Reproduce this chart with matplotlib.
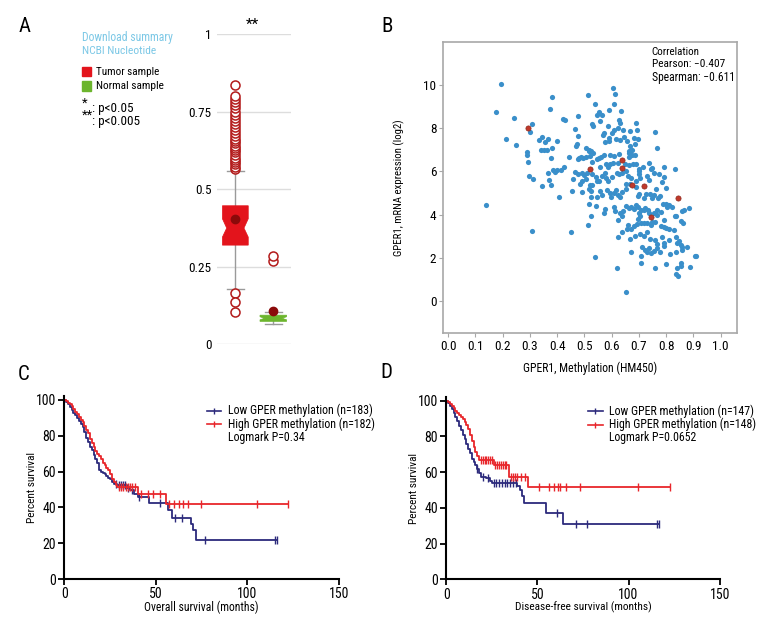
import numpy as np
import matplotlib
matplotlib.use("Agg")
import matplotlib.pyplot as plt
from matplotlib import font_manager
from matplotlib.patches import Rectangle, Polygon
from matplotlib.lines import Line2D

names = set(f.name for f in font_manager.fontManager.ttflist)
fams = [n for n in ['DejaVu Sans Condensed', 'Liberation Sans Narrow', 'Roboto Condensed',
                    'Open Sans Condensed'] if n in names]
plt.rcParams['font.family'] = fams + ['DejaVu Sans']
plt.rcParams['font.stretch'] = 'condensed'
plt.rcParams['font.size'] = 8

# ---------------- data ----------------
groups = ["Tumor sample", "Normal sample"]
box_q1 = [0.319, 0.073]
box_med = [0.374, 0.083]
box_q3 = [0.446, 0.093]
box_cilo = [0.345, 0.078]
box_cihi = [0.404, 0.088]
box_whislo = [0.176, 0.066]
box_whishi = [0.559, 0.102]
box_mean = [0.403, 0.107]
tumor_fliers = [0.565, 0.572, 0.58, 0.588, 0.595, 0.60, 0.61, 0.62, 0.625, 0.632,
                0.64, 0.65, 0.655, 0.662, 0.67, 0.68, 0.69, 0.70, 0.71, 0.72, 0.73,
                0.74, 0.75, 0.76, 0.77, 0.78, 0.79, 0.80, 0.835, 0.163, 0.136, 0.104]
normal_fliers = [0.268, 0.285]

meth_tumor = [0.137, 0.175, 0.193, 0.213, 0.242, 0.249, 0.605, 0.654, 0.838, 0.843, 0.908,
              0.381, 0.513, 0.611, 0.540, 0.610, 0.373, 0.552, 0.546, 0.565, 0.590, 0.636,
              0.475, 0.422, 0.427, 0.556, 0.628, 0.632, 0.689, 0.309, 0.302, 0.529, 0.533,
              0.585, 0.609, 0.622, 0.643, 0.669, 0.693, 0.758, 0.465, 0.476, 0.343, 0.334,
              0.367, 0.354, 0.401, 0.573, 0.570, 0.603, 0.592, 0.574, 0.589, 0.617, 0.632,
              0.646, 0.655, 0.681, 0.696, 0.685, 0.669, 0.473, 0.469, 0.507, 0.516, 0.525,
              0.518, 0.530, 0.663, 0.675, 0.664, 0.765, 0.340, 0.352, 0.362, 0.381, 0.291,
              0.291, 0.378, 0.444, 0.475, 0.481, 0.489, 0.495, 0.507, 0.522, 0.546, 0.554,
              0.560, 0.572, 0.594, 0.608, 0.627, 0.663, 0.675, 0.684, 0.292, 0.426, 0.414,
              0.399, 0.383, 0.393, 0.368, 0.527, 0.558, 0.581, 0.587, 0.595, 0.606, 0.622,
              0.649, 0.665, 0.679, 0.691, 0.702, 0.716, 0.738, 0.745, 0.750, 0.793, 0.833,
              0.297, 0.313, 0.346, 0.379, 0.369, 0.408, 0.453, 0.458, 0.464, 0.477, 0.491,
              0.500, 0.509, 0.529, 0.543, 0.490, 0.485, 0.505, 0.519, 0.529, 0.517, 0.545,
              0.554, 0.563, 0.574, 0.579, 0.588, 0.601, 0.619, 0.627, 0.637, 0.652, 0.660,
              0.670, 0.689, 0.700, 0.702, 0.703, 0.728, 0.736, 0.757, 0.774, 0.785, 0.799,
              0.794, 0.493, 0.524, 0.524, 0.546, 0.558, 0.565, 0.583, 0.593, 0.597, 0.609,
              0.616, 0.624, 0.632, 0.639, 0.653, 0.654, 0.669, 0.691, 0.696, 0.701, 0.718,
              0.725, 0.740, 0.747, 0.755, 0.763, 0.770, 0.778, 0.789, 0.812, 0.518, 0.543,
              0.574, 0.608, 0.612, 0.632, 0.638, 0.641, 0.652, 0.664, 0.670, 0.681, 0.691,
              0.697, 0.700, 0.708, 0.717, 0.724, 0.733, 0.739, 0.754, 0.766, 0.767, 0.781,
              0.798, 0.804, 0.822, 0.832, 0.838, 0.859, 0.866, 0.885, 0.855, 0.862, 0.523,
              0.514, 0.572, 0.622, 0.659, 0.658, 0.670, 0.681, 0.692, 0.697, 0.703, 0.708,
              0.720, 0.730, 0.746, 0.749, 0.761, 0.782, 0.792, 0.801, 0.792, 0.812, 0.828,
              0.836, 0.848, 0.854, 0.307, 0.452, 0.625, 0.639, 0.669, 0.685, 0.703, 0.719,
              0.728, 0.740, 0.761, 0.767, 0.785, 0.793, 0.810, 0.839, 0.857, 0.540, 0.670,
              0.708, 0.713, 0.723, 0.731, 0.738, 0.743, 0.755, 0.767, 0.779, 0.792, 0.815,
              0.835, 0.859, 0.877, 0.907, 0.620, 0.706, 0.758, 0.800, 0.839, 0.853, 0.853,
              0.887]
expr_tumor = [4.45, 8.74, 10.06, 7.48, 8.46, 7.20, 9.85, 0.40, 1.23, 1.15, 2.08,
              9.45, 9.54, 9.60, 9.12, 9.12, 8.88, 8.74, 8.63, 8.60, 8.85, 8.78,
              8.54, 8.40, 8.37, 8.34, 8.38, 8.23, 8.26, 8.20, 7.83, 8.20, 8.08,
              8.12, 7.92, 8.00, 7.92, 7.86, 7.92, 7.83, 7.97, 7.64, 7.59, 7.46,
              7.49, 7.35, 7.39, 7.77, 7.66, 7.77, 7.54, 7.35, 7.39, 7.51, 7.43,
              7.59, 7.39, 7.55, 7.51, 7.28, 7.17, 7.28, 7.18, 7.09, 7.00, 6.95,
              6.92, 6.85, 6.92, 6.97, 6.85, 7.09, 6.97, 7.00, 7.00, 7.09, 6.89,
              6.77, 6.63, 6.66, 6.55, 6.61, 6.66, 6.63, 6.66, 6.71, 6.55, 6.60,
              6.66, 6.77, 6.77, 6.71, 6.78, 6.65, 6.74, 6.77, 6.43, 6.20, 6.05,
              6.08, 6.08, 5.97, 5.94, 6.45, 6.22, 6.32, 6.19, 6.35, 6.39, 6.40,
              6.32, 6.28, 6.35, 6.32, 6.12, 6.20, 6.37, 6.11, 6.17, 6.21, 6.11,
              5.77, 5.66, 5.34, 5.37, 5.61, 4.83, 5.09, 5.65, 5.95, 5.89, 5.92,
              5.83, 5.92, 5.88, 5.74, 5.55, 5.40, 5.65, 5.39, 5.35, 5.18, 5.55,
              5.55, 5.80, 5.92, 5.69, 5.55, 5.74, 5.92, 5.86, 5.94, 6.00, 5.80,
              5.71, 5.55, 5.89, 6.00, 5.71, 5.78, 5.61, 5.92, 5.88, 5.51, 5.25,
              5.72, 5.03, 5.08, 4.81, 4.79, 5.09, 4.91, 5.12, 5.01, 4.79, 5.01,
              5.12, 4.92, 4.81, 5.05, 5.17, 5.40, 5.40, 5.28, 4.85, 4.95, 4.75,
              4.95, 4.95, 4.75, 4.91, 5.17, 4.78, 4.88, 4.49, 4.43, 4.49, 4.38,
              4.26, 4.35, 4.17, 4.09, 3.92, 4.17, 4.41, 4.31, 4.35, 4.26, 4.43,
              4.34, 4.06, 4.22, 4.23, 4.32, 4.20, 4.08, 4.06, 3.97, 4.20, 4.14,
              4.51, 4.35, 4.37, 3.95, 3.91, 4.17, 4.19, 4.32, 3.72, 3.60, 3.92,
              3.52, 4.09, 3.74, 3.51, 3.35, 3.31, 3.46, 3.54, 3.81, 3.94, 3.63,
              3.63, 3.62, 3.51, 3.66, 3.66, 3.49, 3.43, 3.38, 3.74, 3.31, 3.28,
              2.97, 2.77, 2.57, 3.25, 3.20, 2.95, 3.20, 2.89, 3.02, 3.12, 3.02,
              3.20, 2.88, 2.83, 2.63, 2.97, 2.66, 2.82, 2.68, 2.49, 2.05, 2.28,
              2.08, 2.51, 2.35, 2.26, 2.46, 2.20, 2.31, 2.43, 2.28, 2.54, 2.15,
              2.28, 2.35, 2.51, 2.09, 1.51, 1.77, 1.51, 1.71, 1.51, 1.77, 1.62,
              1.55]
meth_normal = [0.292, 0.638, 0.522, 0.639, 0.676, 0.717, 0.844, 0.743]
expr_normal = [7.99, 6.52, 6.11, 6.15, 5.38, 5.31, 4.77, 3.89]
corr_text = ["Correlation", "Pearson: \u22120.407", "Spearman: \u22120.611"]

c_low_t = [0, 1, 2, 3, 4, 5, 6, 7, 8, 9, 10, 11, 12, 13, 14, 15, 16, 17, 18, 19, 20, 21, 22,
           23, 24, 25, 26, 27, 29, 34, 36, 38, 40, 46, 56.5, 59, 69, 70.5, 72]
c_low_s = [100, 99, 97.5, 96, 94.5, 93, 91.5, 90, 88, 86.5, 85, 82, 79, 76.5, 74, 72, 69.5,
           67, 65, 61, 60, 59, 58.5, 57.5, 56.5, 56, 54, 53, 52.5, 51, 49.5, 47.5, 46, 42.5,
           38.5, 34, 30.5, 27.5, 22]
c_low_cens = [28, 30, 31, 32, 33, 35, 37, 41, 52, 60.5, 64.5, 77, 115, 116]
c_high_t = [0, 1, 2, 3, 4, 5, 6, 7, 8, 9, 10, 11, 12, 13, 14, 15, 16, 17, 18, 19, 20, 21, 22,
            23, 24, 25, 26, 27, 28, 29, 40, 55.5]
c_high_s = [100, 99.5, 98.5, 97.5, 96.5, 95, 93.5, 92, 90.5, 89, 87.5, 85.5, 83.5, 81.5, 78,
            76, 73.5, 71.5, 70, 68.5, 67, 65, 63.5, 62, 61, 58.5, 56, 54, 52.5, 51.5, 47.5, 42]
c_high_cens = [30, 31, 32, 33.5, 35, 36, 37, 38.5, 42, 45.5, 48.5, 52.3, 57.4, 60, 62.8, 64.6,
               67.4, 74.5, 105, 122.3]

d_low_t = [0, 1, 2, 3, 4, 5, 6, 7, 8, 9, 10, 11, 12, 13, 14, 15, 16, 17, 18, 19, 22, 24, 25,
           39, 40.5, 41.5, 42.5, 54.5, 64]
d_low_s = [100, 98.5, 97, 95.5, 93, 91, 88.5, 86, 83.5, 81, 78.5, 76, 73, 70.5, 67.5, 65.5,
           64, 62, 59.5, 57.5, 56.5, 55, 54, 52.5, 50, 46.5, 42.5, 37, 31]
d_low_cens = [17, 20, 23, 26, 27.5, 29, 30.5, 32, 33.5, 35, 36.5, 38, 61, 71, 77, 115.5, 116.5]
d_high_t = [0, 1, 2, 3, 4, 5, 6, 7, 8, 9, 10, 11, 12, 13, 14, 15, 16, 17, 18, 26, 34.5, 45]
d_high_s = [100, 99, 98, 97, 96, 94.5, 93, 92, 91, 89.5, 88, 86.5, 84, 81, 77.5, 74, 71,
            69, 67, 64, 57, 51.5]
d_high_cens = [19, 20, 21, 22, 23, 24, 25, 27, 28, 29, 30, 31, 32, 33, 35.5, 36.5, 37.5, 39,
               41, 43, 50.6, 56.5, 59, 61.5, 62.5, 65.6, 73.5, 105, 122.5]

c_labels = ["Low GPER methylation (n=183)", "High GPER methylation (n=182)", "Logmark P=0.34"]
d_labels = ["Low GPER methylation (n=147)", "High GPER methylation (n=148)", "Logmark P=0.0652"]

LOW_COL = "#2c2a7c"
HIGH_COL = "#e8262b"
BOX_COLS = ['#e3141c', '#6cb52d']

fig = plt.figure(figsize=(7.68, 6.36), dpi=100)
renderer = fig.canvas.get_renderer()
GROW = 1.12  # our font is wider than the original condensed one, so go a bit past its width


def fit(txt, px):
    # scale a text so its long side roughly matches the width measured on the reference
    bb = txt.get_window_extent(renderer)
    cur = max(bb.width, bb.height) if txt.get_rotation() else bb.width
    txt.set_fontsize(txt.get_fontsize() * px * GROW / cur)
    return txt


# ---------------- panel A ----------------
axA = fig.add_axes([0.2826, 0.4591, 0.0959, 0.4874])
positions = [1, 2]
widths = [0.68, 0.7]
stats = []
fliers = [tumor_fliers, normal_fliers]
for i in range(2):
    stats.append(dict(q1=box_q1[i], med=box_med[i], q3=box_q3[i],
                      whislo=box_whislo[i], whishi=box_whishi[i],
                      mean=box_mean[i], fliers=fliers[i]))
bp = axA.bxp(stats, positions=positions, widths=widths, patch_artist=True,
             showmeans=True, showbox=False,
             flierprops=dict(marker='o', markerfacecolor='white', markeredgecolor='#b31b1b',
                             markersize=6.5, markeredgewidth=1.1),
             meanprops=dict(marker='o', markerfacecolor='#8b0a0a', markeredgecolor='#8b0a0a',
                            markersize=6, zorder=4),
             whiskerprops=dict(color='#9a9a9a', lw=1),
             capprops=dict(color='#9a9a9a', lw=1),
             capwidths=[0.45, 0.45],
             medianprops=dict(lw=0))
# notched boxes drawn by hand (narrower notch than matplotlib default)
for i in range(2):
    p, hw = positions[i], widths[i] / 2
    nw = hw * 0.67
    verts = [(p - hw, box_q1[i]), (p + hw, box_q1[i]), (p + hw, box_cilo[i]),
             (p + nw, box_med[i]), (p + hw, box_cihi[i]), (p + hw, box_q3[i]),
             (p - hw, box_q3[i]), (p - hw, box_cihi[i]), (p - nw, box_med[i]),
             (p - hw, box_cilo[i])]
    axA.add_patch(Polygon(verts, closed=True, facecolor=BOX_COLS[i], edgecolor=BOX_COLS[i],
                          lw=0.5, zorder=3))
axA.set_xlim(0.518, 2.458)
axA.set_ylim(0, 1)
axA.set_yticks([0, 0.25, 0.5, 0.75, 1])
axA.set_yticklabels(['0', '0.25', '0.5', '0.75', '1'])
axA.yaxis.grid(True, color='#dddddd', lw=1)
axA.set_axisbelow(True)
axA.set_xticks([])
axA.tick_params(axis='y', length=0, pad=4, labelsize=9.5)
for s in axA.spines.values():
    s.set_visible(False)
axA.text(1.45, 1.008, "**", ha='center', va='bottom', fontsize=11)

fit(fig.text(82 / 768, 1 - 37 / 636, "Download summary", color='#7cc8e6', va='center'), 82)
fit(fig.text(82 / 768, 1 - 51 / 636, "NCBI Nucleotide", color='#7cc8e6', va='center'), 66)
fig.add_artist(Rectangle((82 / 768, 1 - 76 / 636), 9 / 768, 9 / 636, color=BOX_COLS[0],
                         transform=fig.transFigure))
fig.add_artist(Rectangle((82 / 768, 1 - 90.5 / 636), 9 / 768, 9 / 636, color=BOX_COLS[1],
                         transform=fig.transFigure))
fit(fig.text(96.5 / 768, 1 - 72 / 636, groups[0], va='center'), 57)
fit(fig.text(96.5 / 768, 1 - 86 / 636, groups[1], va='center'), 61)
fig.text(81.5 / 768, 1 - 103 / 636, "*", fontsize=9.5, va='center')
fig.text(91.5 / 768, 1 - 108.5 / 636, ": p<0.05", fontsize=9.5, va='center')
fig.text(82 / 768, 1 - 115 / 636, "**", fontsize=9.5, va='center')
fig.text(92 / 768, 1 - 122 / 636, ": p<0.005", fontsize=9.5, va='center')

# ---------------- panel B ----------------
axB = fig.add_axes([0.5772, 0.4759, 0.382, 0.4585])
axB.scatter(meth_tumor, expr_tumor, s=14, color='#3a8fca', linewidths=0, zorder=2)
axB.scatter(meth_normal, expr_normal, s=14, color='#c0392b', edgecolors='#8e2a1e',
            linewidths=0.5, zorder=3)
axB.set_xlim(-0.018, 1.059)
axB.set_ylim(-1.5, 12)
axB.set_xticks(np.arange(0, 1.01, 0.1))
axB.set_xticklabels(["%.1f" % v for v in np.arange(0, 1.01, 0.1)])
axB.set_yticks([0, 2, 4, 6, 8, 10])
for s in axB.spines.values():
    s.set_color('#a8a8a8')
    s.set_linewidth(1.2)
axB.tick_params(length=3, color='#a8a8a8', labelsize=9.5, pad=2)
fit(axB.set_xlabel("GPER1, Methylation (HM450)"), 120)
fit(axB.set_ylabel("GPER1, mRNA expression (log2)"), 122)
axB.xaxis.set_label_coords(0.5, -0.098)
axB.yaxis.set_label_coords(-0.131, 0.5)
for k, (line, w) in enumerate(zip(corr_text, [43, 66, 75])):
    fit(axB.text(0.71, 0.966 - k * 0.044, line, transform=axB.transAxes,
                 va='center', ha='left'), w)


# ---------------- panels C and D ----------------
def surv_panel(ax, lo_t, lo_s, lo_c, hi_t, hi_s, hi_c, labels, xlab, xlab_w, lab_w):
    for t, s, c, col in [(lo_t, lo_s, lo_c, LOW_COL), (hi_t, hi_s, hi_c, HIGH_COL)]:
        tt = list(t) + [max(c)]
        ss = list(s) + [s[-1]]
        ax.step(tt, ss, where='post', color=col, lw=1.3)
        idx = np.searchsorted(t, c, side='right') - 1
        ax.plot(c, np.array(s)[idx], ls='none', marker='|', color=col, ms=5.5, mew=1)
    ax.set_xlim(0, 150)
    ax.set_ylim(0, 102)
    ax.set_xticks([0, 50, 100, 150])
    ax.set_yticks([0, 20, 40, 60, 80, 100])
    ax.spines['top'].set_visible(False)
    ax.spines['right'].set_visible(False)
    for sp in ['left', 'bottom']:
        ax.spines[sp].set_linewidth(1.5)
    ax.tick_params(direction='out', length=4, width=1.3, labelsize=10, pad=2)
    fit(ax.set_ylabel("Percent survival"), 63)
    fit(ax.set_xlabel(xlab), xlab_w)
    ax.yaxis.set_label_coords(-0.099, 0.5)
    ax.xaxis.set_label_coords(0.5, -0.12)
    for k, (lab, col, w) in enumerate(zip(labels, [LOW_COL, HIGH_COL, None], lab_w)):
        y = 0.922 - k * 0.073
        if col is not None:
            ax.add_line(Line2D([0.518, 0.572], [y, y], color=col, lw=1.2,
                               transform=ax.transAxes))
            ax.add_line(Line2D([0.545], [y], marker='|', ms=4, color=col,
                               transform=ax.transAxes))
        fit(ax.text(0.595, y, lab, transform=ax.transAxes, va='center'), w)


axC = fig.add_axes([0.0837, 0.0896, 0.3577, 0.2871])
surv_panel(axC, c_low_t, c_low_s, c_low_cens, c_high_t, c_high_s, c_high_cens, c_labels,
           "Overall survival (months)", 102, [130, 132, 69])
axD = fig.add_axes([0.5811, 0.0892, 0.356, 0.2864])
surv_panel(axD, d_low_t, d_low_s, d_low_cens, d_high_t, d_high_s, d_high_cens, d_labels,
           "Disease-free survival (months)", 123, [130, 132, 79])

for lab, x, y in [("A", 25, 26), ("B", 387, 27), ("C", 24, 375), ("D", 386, 373)]:
    fig.text(x / 768, 1 - y / 636, lab, fontsize=15, ha='center', va='center')

fig.savefig("out.png", dpi=100)
